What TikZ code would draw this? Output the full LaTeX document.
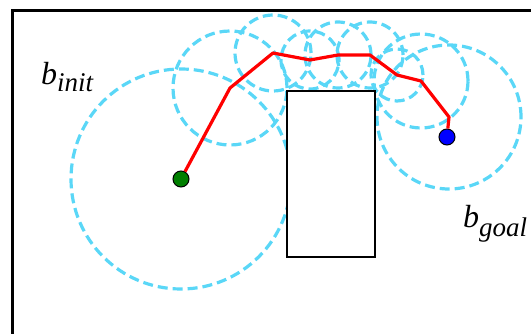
\documentclass[tikz,border=0pt]{standalone}
\usepackage{fontspec}
\setmainfont{Liberation Serif}
\usetikzlibrary{positioning}
\definecolor{BeliefCyan}{HTML}{5AD7F7}
\definecolor{PathRed}{HTML}{FF0000}
\definecolor{InitGreen}{HTML}{007F00}
\definecolor{GoalBlue}{HTML}{0000FF}

\begin{document}
\begin{tikzpicture}[x=1pt, y=-1pt,
  belief/.style={draw=BeliefCyan, line width=3.2pt, dash pattern=on 10pt off 5pt},
  waydot/.style={circle, draw=black, line width=1pt, minimum size=16pt, inner sep=0pt},
  belieflabel/.style={anchor=base west, inner sep=0pt, font=\fontsize{32}{34}\selectfont\itshape}]
  \useasboundingbox (0,0) rectangle (531,334);
  \clip (0,0) rectangle (531,334);
  \draw[line width=3pt] (12,11) rectangle (560,360);
  \node[waydot, fill=InitGreen] (binit) at (181,179) {};
  \node[waydot, fill=GoalBlue] (bgoal) at (447,137) {};
  % way points of the path
  \coordinate (w1) at (230,88);
  \coordinate (w2) at (273,53);
  \coordinate (w3) at (310,60);
  \coordinate (w4) at (338,55);
  \coordinate (w5) at (370,55);
  \coordinate (w6) at (397,75);
  \coordinate (w7) at (421,81);
  \coordinate (w8) at (449,117);
  % belief circles
  \draw[belief] (binit.center) circle[radius=110pt];
  \draw[belief] (w1) circle[radius=57pt];
  \draw[belief] (w2) circle[radius=38pt];
  \draw[belief] (w3) circle[radius=29pt];
  \draw[belief] (w4) circle[radius=33pt];
  \draw[belief] (w5) circle[radius=33pt];
  \draw[belief] (w6) circle[radius=26pt];
  \draw[belief] (w7) circle[radius=47pt];
  \draw[belief] (w8) circle[radius=72pt];
  \node[draw=black, line width=2.2pt, fill=white, minimum width=88pt, minimum height=166pt, inner sep=0pt] (obstacle) at (331,174) {};
  \draw[PathRed, line width=3.2pt, line join=round] (binit) -- (w1) -- (w2) -- (w3) -- (w4) -- (w5) -- (w6) -- (w7) -- (w8) -- (bgoal);
  \node[belieflabel] (initlabel) at (41,85) {b\raisebox{-7pt}{\fontsize{27}{29}\selectfont init}};
  \node[belieflabel] (goallabel) at (463,228) {b\raisebox{-9pt}{\fontsize{27}{29}\selectfont goal}};
\end{tikzpicture}
\end{document}
